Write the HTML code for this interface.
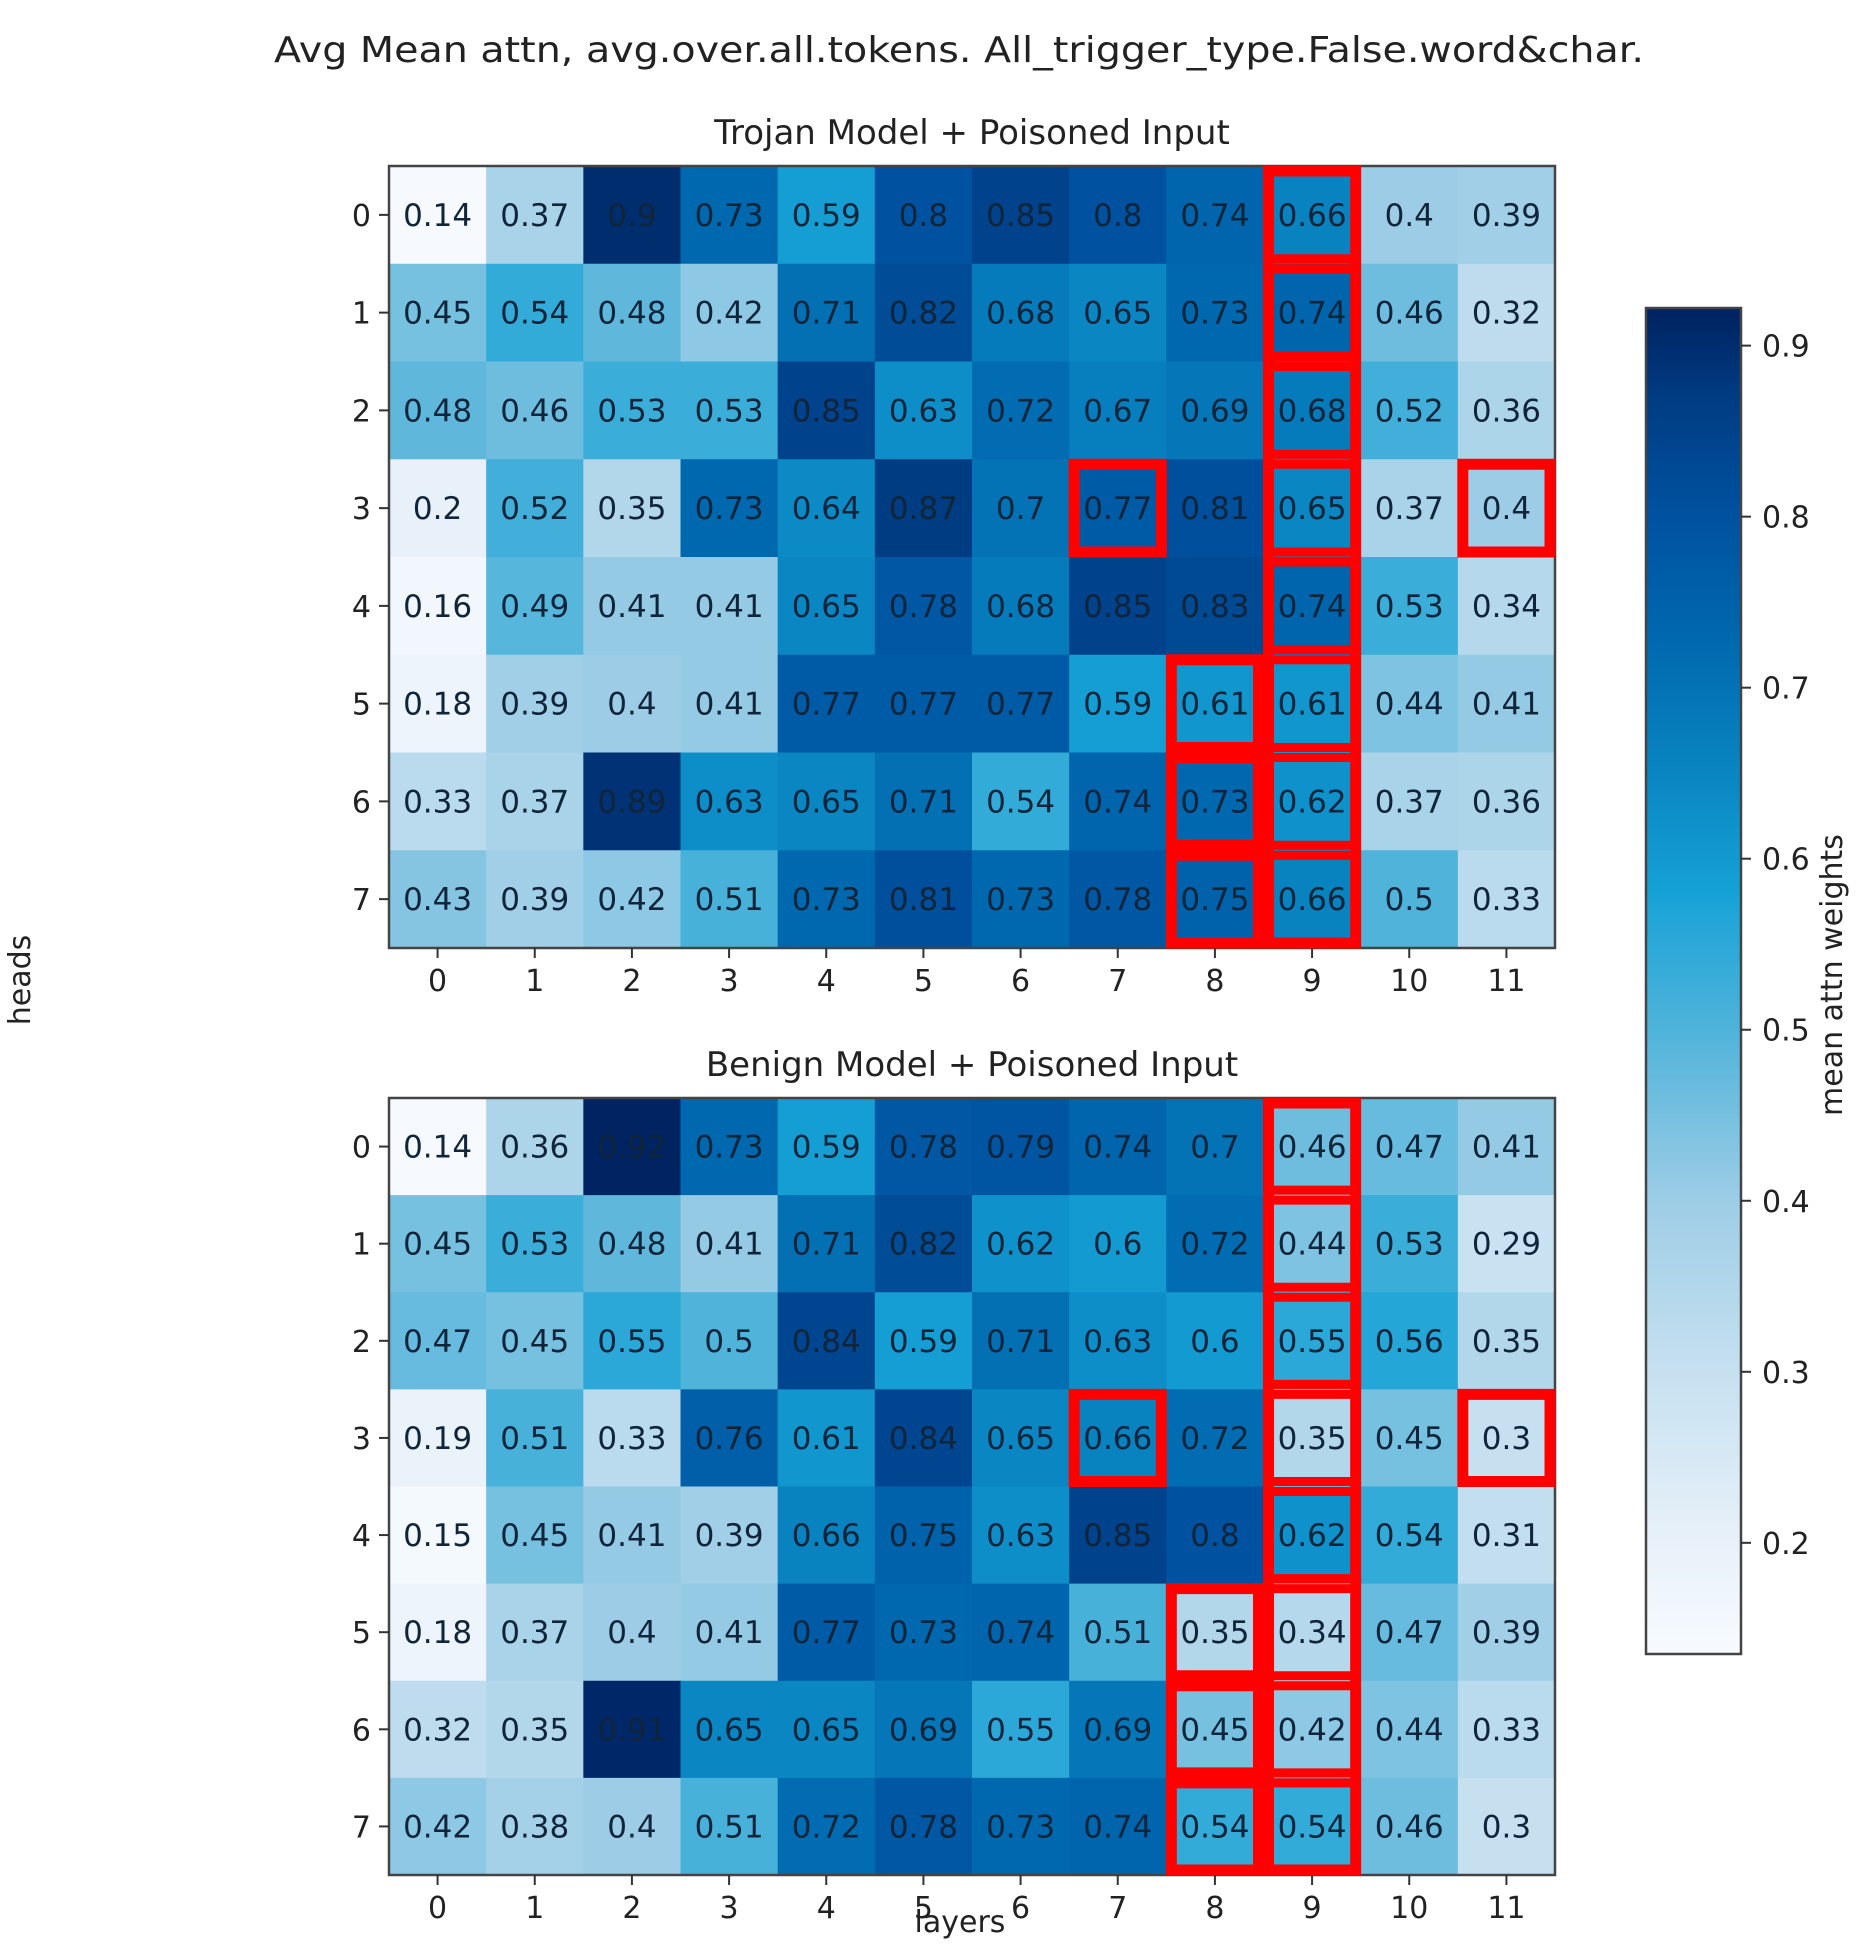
<!DOCTYPE html>
<html><head><meta charset="utf-8"><style>
html,body{margin:0;padding:0;background:#fff;}
svg{display:block;font-family:"DejaVu Sans","Liberation Sans",sans-serif;}
</style></head><body>
<svg id="fig" width="1871" height="1944" viewBox="0 0 1871 1944" xmlns="http://www.w3.org/2000/svg">
<text x="959" y="62" font-size="36" text-anchor="middle" fill="#222" textLength="1370" lengthAdjust="spacingAndGlyphs">Avg Mean attn, avg.over.all.tokens. All_trigger_type.False.word&amp;char.</text>
<text x="30" y="980" font-size="30" text-anchor="middle" fill="#222" transform="rotate(-90 30 980)">heads</text>
<text x="960" y="1932" font-size="30" text-anchor="middle" fill="#222">layers</text>
<text x="1842" y="975" font-size="30" text-anchor="middle" fill="#222" transform="rotate(-90 1842 975)">mean attn weights</text>
</svg>
<script>
const layers=[0,1,2,3,4,5,6,7,8,9,10,11];
const heads=[0,1,2,3,4,5,6,7];
const trojanValues=[
[0.14,0.37,0.9,0.73,0.59,0.8,0.85,0.8,0.74,0.66,0.4,0.39],
[0.45,0.54,0.48,0.42,0.71,0.82,0.68,0.65,0.73,0.74,0.46,0.32],
[0.48,0.46,0.53,0.53,0.85,0.63,0.72,0.67,0.69,0.68,0.52,0.36],
[0.2,0.52,0.35,0.73,0.64,0.87,0.7,0.77,0.81,0.65,0.37,0.4],
[0.16,0.49,0.41,0.41,0.65,0.78,0.68,0.85,0.83,0.74,0.53,0.34],
[0.18,0.39,0.4,0.41,0.77,0.77,0.77,0.59,0.61,0.61,0.44,0.41],
[0.33,0.37,0.89,0.63,0.65,0.71,0.54,0.74,0.73,0.62,0.37,0.36],
[0.43,0.39,0.42,0.51,0.73,0.81,0.73,0.78,0.75,0.66,0.5,0.33]];
const benignValues=[
[0.14,0.36,0.92,0.73,0.59,0.78,0.79,0.74,0.7,0.46,0.47,0.41],
[0.45,0.53,0.48,0.41,0.71,0.82,0.62,0.6,0.72,0.44,0.53,0.29],
[0.47,0.45,0.55,0.5,0.84,0.59,0.71,0.63,0.6,0.55,0.56,0.35],
[0.19,0.51,0.33,0.76,0.61,0.84,0.65,0.66,0.72,0.35,0.45,0.3],
[0.15,0.45,0.41,0.39,0.66,0.75,0.63,0.85,0.8,0.62,0.54,0.31],
[0.18,0.37,0.4,0.41,0.77,0.73,0.74,0.51,0.35,0.34,0.47,0.39],
[0.32,0.35,0.91,0.65,0.65,0.69,0.55,0.69,0.45,0.42,0.44,0.33],
[0.42,0.38,0.4,0.51,0.72,0.78,0.73,0.74,0.54,0.54,0.46,0.3]];
const colorbarTicks=[0.2,0.3,0.4,0.5,0.6,0.7,0.8,0.9];
const highlightCells=[[3,7],[3,11],[5,8],[6,8],[7,8]];
const highlightColumn=9;
const vmin=0.135, vmax=0.922;
const stops=[[0.135,[247,251,255]],[0.2,[232,241,249]],[0.3,[198,224,240]],[0.4,[157,205,230]],[0.5,[79,179,218]],[0.58,[22,162,214]],[0.65,[10,134,194]],[0.73,[0,104,174]],[0.8,[0,82,160]],[0.87,[0,60,130]],[0.922,[0,34,96]]];
function cmap(v){v=Math.max(vmin,Math.min(vmax,v));for(let i=1;i<stops.length;i++){if(v<=stops[i][0]){const a=stops[i-1],b=stops[i];const t=(v-a[0])/(b[0]-a[0]);const c=a[1].map((x,k)=>Math.round(x+(b[1][k]-x)*t));return `rgb(${c.join(',')})`;}}return 'rgb(0,34,96)';}
const NS='http://www.w3.org/2000/svg';
const svg=document.getElementById('fig');
function mk(tag,attrs,parent){const e=document.createElementNS(NS,tag);for(const k in attrs)e.setAttribute(k,attrs[k]);(parent||svg).appendChild(e);return e;}
const X0=389,X1=1555;
const cw=(X1-X0)/layers.length;
function xS(c){return X0+c*cw;}
function drawPanel(vals,top,bottom,title,key){
  const ch=(bottom-top)/heads.length;
  const yS=r=>top+r*ch;
  const g=mk('g',{});
  
  
  const t=mk('text',{x:(X0+X1)/2,y:top-22,'font-size':34,'text-anchor':'middle',fill:'#222'},g);
  t.textContent=title;
  
  
  heads.forEach((h,r)=>{layers.forEach((l,c)=>{
    const v=vals[r][c];
    const rc=mk('rect',{x:xS(c),y:yS(r),width:cw+0.6,height:ch+0.6,fill:cmap(v)},g);
    
    
    const tx=mk('text',{x:xS(c)+cw/2,y:yS(r)+ch/2+11,'font-size':31,'text-anchor':'middle',fill:'#10243a'},g);
    tx.textContent=String(v);
    
    
  });});
  const fr=mk('rect',{x:X0,y:top,width:X1-X0,height:bottom-top,fill:'none',stroke:'#444','stroke-width':2.5},g);
  
  
  // highlights
  const col=mk('rect',{x:xS(highlightColumn)+5,y:top+5,width:cw-10,height:bottom-top-10,fill:'none',stroke:'#ff0000','stroke-width':11},g);
  
  
  heads.forEach((h,r)=>{const hr=mk('rect',{x:xS(highlightColumn)+5,y:yS(r)+5,width:cw-10,height:ch-10,fill:'none',stroke:'#ff0000','stroke-width':9},g);
    
    });
  highlightCells.forEach(([r,c])=>{const hr=mk('rect',{x:xS(c)+5,y:yS(r)+5,width:cw-10,height:ch-10,fill:'none',stroke:'#ff0000','stroke-width':11},g);
    
    });
  heads.forEach((h,r)=>{const y=yS(r)+ch/2;
    mk('line',{x1:X0-10,x2:X0,y1:y,y2:y,stroke:'#333','stroke-width':2},g);
    const tl=mk('text',{x:X0-18,y:y+11,'font-size':30,'text-anchor':'end',fill:'#222'},g);
    tl.textContent=String(h);
    
    });
  layers.forEach((l,c)=>{const x=xS(c)+cw/2;
    mk('line',{x1:x,x2:x,y1:bottom,y2:bottom+10,stroke:'#333','stroke-width':2},g);
    const tl=mk('text',{x:x,y:bottom+43,'font-size':30,'text-anchor':'middle',fill:'#222'},g);
    tl.textContent=String(l);
    
    });
}
drawPanel(trojanValues,166,948,'Trojan Model + Poisoned Input','trojan');
drawPanel(benignValues,1098,1875,'Benign Model + Poisoned Input','benign');
// colorbar
const CB={x:1646,w:95,top:308,bot:1654};
const cbY=v=>CB.bot-(v-vmin)/(vmax-vmin)*(CB.bot-CB.top);
const defs=mk('defs',{});
const grad=mk('linearGradient',{id:'cbg',x1:0,y1:1,x2:0,y2:0},defs);
stops.forEach(s=>{mk('stop',{offset:((s[0]-vmin)/(vmax-vmin)),'stop-color':`rgb(${s[1].join(',')})`},grad);});
const cb=mk('rect',{x:CB.x,y:CB.top,width:CB.w,height:CB.bot-CB.top,fill:'url(#cbg)',stroke:'#444','stroke-width':2.5});


colorbarTicks.forEach(t=>{const y=cbY(t);
  mk('line',{x1:CB.x+CB.w,x2:CB.x+CB.w+10,y1:y,y2:y,stroke:'#333','stroke-width':2});
  const tl=mk('text',{x:CB.x+CB.w+21,y:y+11,'font-size':30,fill:'#222'});
  tl.textContent=String(t);
  
  });
</script>
</body></html>
